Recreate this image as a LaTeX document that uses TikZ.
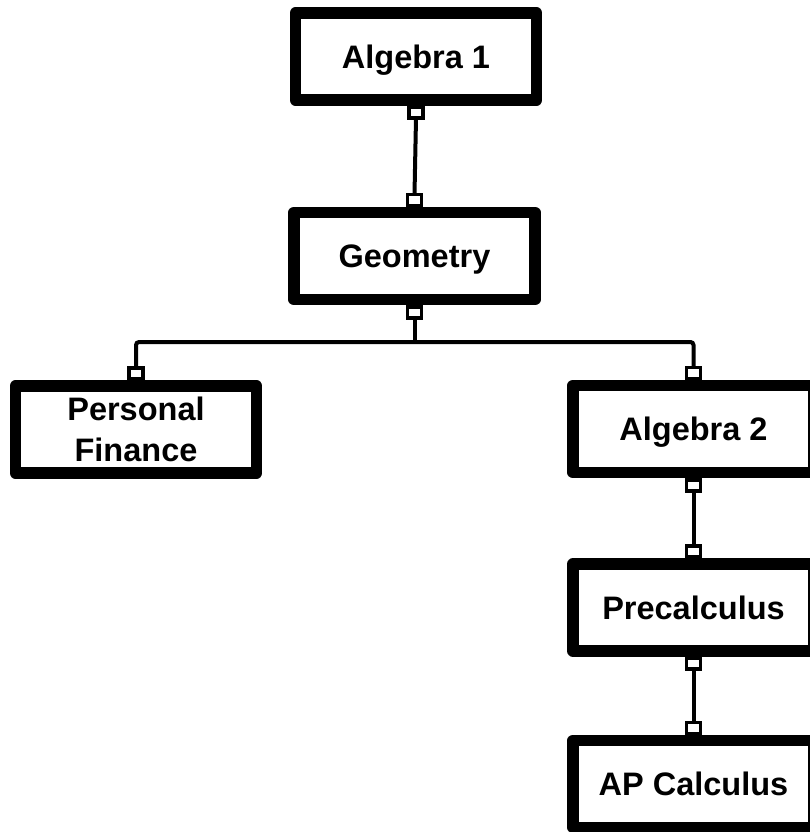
\documentclass[tikz,border=0pt]{standalone}
\usepackage{fontspec}
\setmainfont{Liberation Sans}
\begin{document}
\begin{tikzpicture}[x=1pt,y=1pt,
  box/.style={draw=black, fill=white, line width=11.5pt, line join=round,
    minimum width=241pt, minimum height=87pt, inner sep=0pt, outer sep=0pt,
    align=center, text depth=0pt, font=\fontsize{32.5}{41}\selectfont\bfseries},
  sq/.style={draw=black, fill=white, line width=3.6pt, minimum width=14pt,
    minimum height=11pt, inner sep=0pt, outer sep=0pt},
  conn/.style={draw=black, line width=4pt, rounded corners=3pt}]
\useasboundingbox (0,0) rectangle (810,-832);
\fill[white] (0,0) rectangle (810,-832);
\clip (0,0) rectangle (810,-832);

% boxes
\node[box] (alg1) at (416,-56.5) {Algebra 1};
\node[box] (geo) at (414.5,-256) {Geometry};
\node[box] (pf) at (136,-429.5) {Personal\\Finance};
\node[box] (alg2) at (693.5,-429) {Algebra 2};
\node[box] (pre) at (693.5,-607.5) {Precalculus};
\node[box] (ap) at (693.5,-784) {AP Calculus};

% connector end squares
\node[sq, anchor=north] (alg1b) at ([yshift=-7.2pt]alg1.south) {};
\node[sq, anchor=south] (geot) at ([yshift=7.2pt]geo.north) {};
\node[sq, anchor=north] (geob) at ([yshift=-7.2pt]geo.south) {};
\node[sq, anchor=south] (pft) at ([yshift=7.2pt]pf.north) {};
\node[sq, anchor=south] (alg2t) at ([yshift=7.2pt]alg2.north) {};
\node[sq, anchor=north] (alg2b) at ([yshift=-7.2pt]alg2.south) {};
\node[sq, anchor=south] (pret) at ([yshift=7.2pt]pre.north) {};
\node[sq, anchor=north] (preb) at ([yshift=-7.2pt]pre.south) {};
\node[sq, anchor=south] (apt) at ([yshift=7.2pt]ap.north) {};

\coordinate (j) at (414.5,-342);

% connectors
\draw[conn] (alg1b.south) -- (geot.north);
\draw[conn] (geob.south) -- (j);
\draw[conn] (pft.north) -- (pft.north |- j) -- (alg2t.north |- j) -- (alg2t.north);
\draw[conn] (alg2b.south) -- (pret.north);
\draw[conn] (preb.south) -- (apt.north);
\end{tikzpicture}
\end{document}
